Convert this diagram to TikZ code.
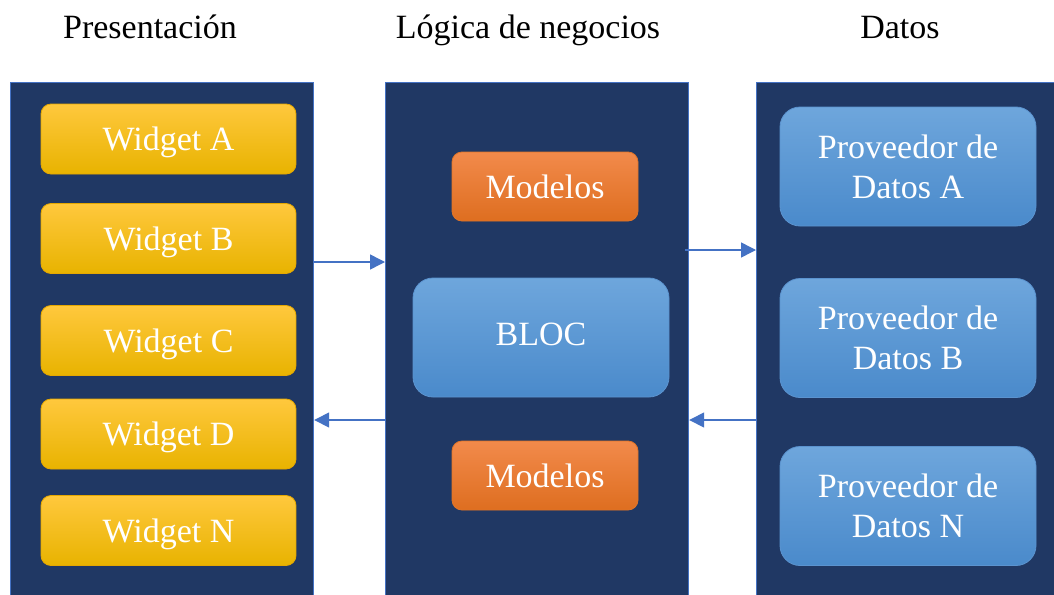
\documentclass[tikz,border=0pt]{standalone}
\usepackage{fontspec}
\setmainfont{Liberation Serif}
\usetikzlibrary{arrows.meta,positioning}
\definecolor{panelfill}{HTML}{203864}
\definecolor{panelline}{HTML}{4472C4}
\definecolor{arrowc}{HTML}{4472C4}
\definecolor{ytop}{HTML}{FFC83D}
\definecolor{ymid}{HTML}{FFC000}
\definecolor{ybot}{HTML}{E8B300}
\definecolor{yline}{HTML}{E6A800}
\definecolor{otop}{HTML}{F28A4B}
\definecolor{omid}{HTML}{ED7D31}
\definecolor{obot}{HTML}{DE6E20}
\definecolor{oline}{HTML}{E07528}
\definecolor{btop}{HTML}{6EA6DC}
\definecolor{bmid}{HTML}{5B9BD5}
\definecolor{bbot}{HTML}{4A8ACB}
\definecolor{bline}{HTML}{5B93CF}
\tikzset{
  panel/.style={draw=panelline, line width=1.2pt, fill=panelfill, anchor=north west, inner sep=0pt},
  widget/.style={draw=yline, line width=0.8pt, rounded corners=10pt, top color=ytop, middle color=ymid, bottom color=ybot,
    minimum width=255pt, minimum height=70pt, text=white, font=\fontsize{34}{40}\selectfont, inner sep=0pt,
    text height=23pt, text depth=0pt},
  modelbox/.style={draw=oline, line width=0.8pt, rounded corners=10pt, top color=otop, middle color=omid, bottom color=obot,
    minimum width=186pt, minimum height=69pt, text=white, font=\fontsize{34}{40}\selectfont, inner sep=0pt,
    text height=23pt, text depth=0pt},
  bluebox/.style={draw=bline, line width=0.8pt, rounded corners=20pt, top color=btop, middle color=bmid, bottom color=bbot,
    minimum width=256pt, minimum height=119pt, text=white, font=\fontsize{34}{40}\selectfont, inner sep=0pt, align=center},
  title/.style={text=black, font=\fontsize{34}{40}\selectfont, inner sep=0pt, anchor=base},
  arr/.style={draw=arrowc, line width=1.5pt, -{Triangle[length=15pt,width=15pt]}},
}
\begin{document}
\begin{tikzpicture}[x=1pt,y=-1pt]
\clip (0,0) rectangle (1054,594);
\fill[white] (0,0) rectangle (1054,594);
% panels
\node[panel, minimum width=303pt, minimum height=530pt] (p1) at (10,82) {};
\node[panel, minimum width=303pt, minimum height=530pt] (p2) at (385,82) {};
\node[panel, minimum width=320pt, minimum height=530pt] (p3) at (756,82) {};
% titles
\node[title] (t1) at (150,39) {Presentación};
\node[title] (t2) at (528,39) {Lógica de negocios};
\node[title] (t3) at (900,39) {Datos};
% widgets
\node[widget] (wa) at (168.5,139) {Widget A};
\node[widget] (wb) at (168.5,238.5) {Widget B};
\node[widget] (wc) at (168.5,340.5) {Widget C};
\node[widget] (wd) at (168.5,434) {Widget D};
\node[widget] (wn) at (168.5,530.5) {Widget N};
% logic
\node[modelbox] (m1) at (545,186.5) {Modelos};
\node[bluebox] (bloc) at (541,337.5) {\strut BLOC};
\node[modelbox] (m2) at (545,475.5) {Modelos};
% data
\node[bluebox] (da) at (908,166.5) {Proveedor de\\Datos A};
\node[bluebox] (db) at (908,338) {Proveedor de\\Datos B};
\node[bluebox] (dn) at (908,506) {Proveedor de\\Datos N};
% arrows
\coordinate (ya) at (0,262);
\coordinate (yb) at (0,420);
\coordinate (yc) at (0,250);
\draw[arr] (p1.east |- ya) -- (p2.west |- ya);
\draw[arr] (p2.west |- yb) -- (p1.east |- yb);
\draw[arr] ([xshift=-4pt]p2.east |- yc) -- (p3.west |- yc);
\draw[arr] (p3.west |- yb) -- (p2.east |- yb);
\end{tikzpicture}
\end{document}
